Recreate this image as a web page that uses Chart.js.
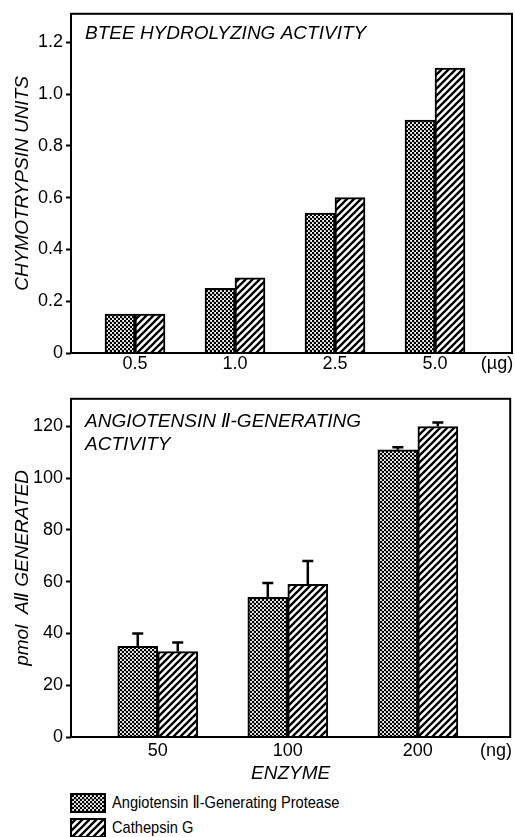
<!DOCTYPE html>
<html lang="en">
<head>
<meta charset="UTF-8">
<title>BTEE hydrolyzing and angiotensin II-generating activity</title>
<script src="https://cdn.jsdelivr.net/npm/chart.js"></script>
<style>
    body { margin: 0; background: #fff; width: 515px; height: 837px; position: relative; overflow: hidden;
           font-family: 'Liberation Sans', 'DejaVu Sans', sans-serif; }
    #topBox { position: absolute; left: 0; top: 0; width: 515px; height: 385px; }
    #bottomBox { position: absolute; left: 0; top: 385px; width: 515px; height: 400px; }
    #legend { position: absolute; left: 70px; top: 790px; }
    .item { display: flex; align-items: center; height: 25px; font-size: 17px; white-space: nowrap; }
    .item canvas { margin-right: 6px; }
    .item span { display: inline-block; transform: scaleX(0.86); transform-origin: left center; }
</style>
</head>
<body>
<div id="topBox"><canvas id="topChart"></canvas></div>
<div id="bottomBox"><canvas id="bottomChart"></canvas></div>
<div id="legend"></div>

<script>
// upper panel: BTEE hydrolyzing activity (chymotrypsin units)
const topDoses = ['0.5', '1.0', '2.5', '5.0'];
const topUnit = '(µg)';
const topProtease = [0.15, 0.25, 0.54, 0.90];
const topCathepsin = [0.15, 0.29, 0.60, 1.10];

// lower panel: angiotensin II generated (pmol), with error bars
const bottomDoses = ['50', '100', '200'];
const bottomUnit = '(ng)';
const bottomProtease = [35, 54, 111];
const bottomProteaseErr = [5, 5.5, 1];
const bottomCathepsin = [33, 59, 120];
const bottomCathepsinErr = [3.5, 9, 1.5];

const seriesNames = ['Angiotensin Ⅱ-Generating Protease', 'Cathepsin G'];

const FONT = "'Liberation Sans', 'DejaVu Sans', sans-serif";

// fill patterns: stipple for the protease, hatching for cathepsin G
function dotPattern(ctx) {
    const c = document.createElement('canvas');
    c.width = 4; c.height = 4;
    const g = c.getContext('2d');
    g.fillStyle = '#fff';
    g.fillRect(0, 0, 4, 4);
    g.fillStyle = '#000';
    [[1, 1], [3, 3]].forEach(p => {
        g.beginPath();
        g.arc(p[0], p[1], 1.3, 0, Math.PI * 2);
        g.fill();
    });
    return ctx.createPattern(c, 'repeat');
}

function hatchPattern(ctx) {
    const s = 7;
    const c = document.createElement('canvas');
    c.width = s; c.height = s;
    const g = c.getContext('2d');
    g.fillStyle = '#fff';
    g.fillRect(0, 0, s, s);
    g.strokeStyle = '#000';
    g.lineWidth = 2.3;
    g.beginPath();
    g.moveTo(-1, s + 1); g.lineTo(s + 1, -1);
    g.moveTo(-1, 1); g.lineTo(1, -1);
    g.moveTo(s - 1, s + 1); g.lineTo(s + 1, s - 1);
    g.stroke();
    return ctx.createPattern(c, 'repeat');
}

// box around the plot area
const framePlugin = {
    id: 'frame',
    afterDatasetsDraw(chart) {
        const { ctx, chartArea: a } = chart;
        ctx.save();
        ctx.strokeStyle = '#000';
        ctx.lineWidth = 2;
        ctx.strokeRect(a.left, a.top, a.right - a.left, a.bottom - a.top);
        ctx.restore();
    }
};

// T-shaped error bars on top of each bar
const errorBarPlugin = {
    id: 'errorBars',
    afterDatasetsDraw(chart) {
        const ctx = chart.ctx;
        const y = chart.scales.y;
        chart.data.datasets.forEach((ds, i) => {
            if (!ds.errors) return;
            chart.getDatasetMeta(i).data.forEach((bar, j) => {
                const yTop = y.getPixelForValue(ds.data[j].y + ds.errors[j]);
                ctx.save();
                ctx.strokeStyle = '#000';
                ctx.lineWidth = 2.5;
                ctx.beginPath();
                ctx.moveTo(bar.x, bar.y);
                ctx.lineTo(bar.x, yTop);
                ctx.moveTo(bar.x - 5.5, yTop);
                ctx.lineTo(bar.x + 5.5, yTop);
                ctx.stroke();
                ctx.restore();
            });
        });
    }
};

// italic heading written inside the plot area
function panelLabel(lines, firstBaseline) {
    return {
        id: 'panelLabel',
        afterDraw(chart) {
            const { ctx, chartArea: a } = chart;
            ctx.save();
            ctx.font = 'italic 19px ' + FONT;
            ctx.fillStyle = '#000';
            ctx.textBaseline = 'alphabetic';
            lines.forEach((t, k) => ctx.fillText(t, a.left + 14, a.top + firstBaseline + k * 23));
            ctx.restore();
        }
    };
}

function makeChart(canvasId, o) {
    const ctx = document.getElementById(canvasId).getContext('2d');
    const tickPos = o.doses.map((d, i) => i).concat([o.unitPos]);
    const tickText = o.doses.concat([o.unit]);
    const sets = [
        { label: seriesNames[0], data: o.protease.map((v, i) => ({ x: i, y: v })),
          backgroundColor: dotPattern(ctx), errors: o.proteaseErr },
        { label: seriesNames[1], data: o.cathepsin.map((v, i) => ({ x: i, y: v })),
          backgroundColor: hatchPattern(ctx), errors: o.cathepsinErr }
    ];
    sets.forEach(s => {
        s.borderColor = '#000';
        s.borderWidth = 2;
        s.barThickness = o.barWidth;
    });

    return new Chart(ctx, {
        type: 'bar',
        data: { datasets: sets },
        options: {
            responsive: true,
            maintainAspectRatio: false,
            animation: false,
            layout: { padding: { top: o.padTop, right: 3, left: 0, bottom: 0 } },
            plugins: { legend: { display: false }, tooltip: { enabled: false } },
            scales: {
                x: {
                    type: 'linear',
                    offset: false,
                    min: o.xMin,
                    max: o.xMax,
                    grid: { display: false, drawTicks: false },
                    border: { display: false },
                    afterBuildTicks: scale => { scale.ticks = tickPos.map(v => ({ value: v })); },
                    afterFit: scale => { scale.height = o.xHeight; },
                    ticks: {
                        autoSkip: false,
                        maxRotation: 0,
                        padding: o.xPad,
                        color: '#000',
                        font: { family: FONT, size: 18 },
                        callback: (v, i) => tickText[i]
                    },
                    title: {
                        display: !!o.xTitle,
                        text: o.xTitle,
                        color: '#000',
                        padding: { top: 0, bottom: 0 },
                        font: { family: FONT, size: 19, style: 'italic' }
                    }
                },
                y: {
                    min: 0,
                    max: o.yMax,
                    grid: { drawOnChartArea: false, drawTicks: true, tickLength: 5, tickColor: '#000', tickWidth: 2 },
                    border: { display: false },
                    afterFit: scale => { scale.width = 71; },
                    ticks: {
                        stepSize: o.yStep,
                        includeBounds: false,
                        padding: 3,
                        color: '#000',
                        font: { family: FONT, size: 18 },
                        callback: o.yFormat
                    },
                    title: {
                        display: true,
                        text: o.yTitle,
                        color: '#000',
                        padding: { top: 11, bottom: 0 },
                        font: { family: FONT, size: 19, style: 'italic' }
                    }
                }
            }
        },
        plugins: [framePlugin, errorBarPlugin, panelLabel(o.label, o.labelBaseline)]
    });
}

makeChart('topChart', {
    doses: topDoses, unit: topUnit, unitPos: 3.62,
    protease: topProtease, cathepsin: topCathepsin,
    xMin: -0.64, xMax: 3.77, barWidth: 30,
    yMax: 1.31, yStep: 0.2,
    yFormat: v => (v === 0 ? '0' : v.toFixed(1)),
    yTitle: 'CHYMOTRYPSIN UNITS',
    padTop: 8, xHeight: 32, xPad: 0,
    label: ['BTEE HYDROLYZING ACTIVITY'], labelBaseline: 25
});

makeChart('bottomChart', {
    doses: bottomDoses, unit: bottomUnit, unitPos: 2.6,
    protease: bottomProtease, cathepsin: bottomCathepsin,
    proteaseErr: bottomProteaseErr, cathepsinErr: bottomCathepsinErr,
    xMin: -0.667, xMax: 2.71, barWidth: 40,
    yMax: 130.7, yStep: 20,
    yFormat: v => String(v),
    yTitle: 'pmol  AⅡ GENERATED',
    padTop: 9, xHeight: 48, xPad: 3, xTitle: 'ENZYME',
    label: ['ANGIOTENSIN Ⅱ-GENERATING', 'ACTIVITY'], labelBaseline: 28
});

// legend with the same fill patterns
const legend = document.getElementById('legend');
[dotPattern, hatchPattern].forEach((makePattern, i) => {
    const row = document.createElement('div');
    row.className = 'item';
    const sw = document.createElement('canvas');
    sw.width = 36; sw.height = 20;
    const g = sw.getContext('2d');
    g.fillStyle = makePattern(g);
    g.fillRect(1, 1, 34, 18);
    g.strokeStyle = '#000';
    g.lineWidth = 2;
    g.strokeRect(1, 1, 34, 18);
    const txt = document.createElement('span');
    txt.textContent = seriesNames[i];
    row.appendChild(sw);
    row.appendChild(txt);
    legend.appendChild(row);
});
</script>
</body>
</html>
